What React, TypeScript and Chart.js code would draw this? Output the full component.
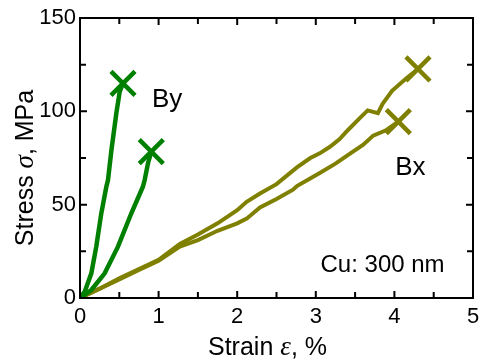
import React, { useEffect, useRef } from "react";
import { Chart, registerables } from "chart.js";

Chart.register(...registerables);

// By (green) curves
const by1Strain = [0, 0.06, 0.144, 0.207, 0.271, 0.335, 0.356, 0.4, 0.462, 0.505, 0.547];
const by1Stress = [0, 3.4, 13.2, 27.5, 45.4, 59.6, 63.2, 79.3, 98.9, 110.5, 115];
const by2Strain = [0, 0.144, 0.314, 0.483, 0.653, 0.8, 0.823, 0.865, 0.907];
const by2Stress = [0, 4.3, 13.2, 27.5, 45.4, 59.6, 63.2, 72.2, 78.4];

// Bx (olive) curves
const bx1Strain = [0, 0.25, 0.5, 0.75, 1, 1.27, 1.5, 1.75, 2.0, 2.12, 2.29, 2.5, 2.76, 2.93, 3.05, 3.18, 3.3, 3.41, 3.55, 3.66, 3.79, 3.85, 3.97, 4.16, 4.3];
const bx1Stress = [0, 5, 10.5, 15.5, 20.5, 29, 34, 40, 47, 51.5, 56, 61, 70, 75, 77.5, 81, 85, 90, 96, 100.5, 99, 104, 111, 118, 122.7];
const bx2Strain = [0, 0.25, 0.5, 0.75, 1, 1.27, 1.5, 1.75, 2.0, 2.12, 2.29, 2.5, 2.71, 2.76, 3.05, 3.25, 3.44, 3.6, 3.73, 3.9, 4.05];
const bx2Stress = [0, 5, 10, 15, 20, 27.5, 31, 36, 40, 42.5, 48.5, 53, 58, 60, 67, 72, 77.5, 82, 87, 90, 94.5];

// fracture markers
const byFracStrain = [0.547, 0.907];
const byFracStress = [115, 78.4];
const bxFracStrain = [4.3, 4.05];
const bxFracStress = [122.7, 94.5];

const xTicks = [0, 1, 2, 3, 4, 5];
const yTicks = [0, 50, 100, 150];
const xMinor = [0.5, 1.5, 2.5, 3.5, 4.5];
const yMinor = [25, 75, 125];

const labels = [
  { text: "By", x: 0.915, y: 106, size: 26 },
  { text: "Bx", x: 4.01, y: 69.6, size: 26 },
  { text: "Cu: 300 nm", x: 3.06, y: 17.7, size: 24 },
];

const GREEN = "rgb(0,128,0)";
const OLIVE = "rgb(128,128,0)";
const SANS = "'Liberation Sans', Arial, sans-serif";
const SERIF = "'Liberation Serif', 'Times New Roman', serif";

const pts = (xs: number[], ys: number[]) => xs.map((x, i) => ({ x, y: ys[i] }));

const framePlugin = {
  id: "frame",
  afterDatasetsDraw(chart: any) {
    const { ctx, chartArea: a, scales } = chart;
    const xs = scales.x;
    const ys = scales.y;
    ctx.save();
    ctx.strokeStyle = "#000";
    ctx.lineWidth = 2;
    ctx.strokeRect(a.left, a.top, a.right - a.left, a.bottom - a.top);
    const tick = (len: number, vx: number[], vy: number[]) => {
      ctx.beginPath();
      vx.forEach((v) => {
        const p = xs.getPixelForValue(v);
        ctx.moveTo(p, a.bottom);
        ctx.lineTo(p, a.bottom - len);
        ctx.moveTo(p, a.top);
        ctx.lineTo(p, a.top + len);
      });
      vy.forEach((v) => {
        const p = ys.getPixelForValue(v);
        ctx.moveTo(a.left, p);
        ctx.lineTo(a.left + len, p);
        ctx.moveTo(a.right, p);
        ctx.lineTo(a.right - len, p);
      });
      ctx.stroke();
    };
    tick(7, xTicks, yTicks);
    tick(6, xMinor, yMinor);

    // text annotations
    ctx.fillStyle = "#000";
    ctx.textBaseline = "middle";
    ctx.textAlign = "left";
    labels.forEach((l) => {
      ctx.font = `${l.size}px ${SANS}`;
      ctx.fillText(l.text, xs.getPixelForValue(l.x), ys.getPixelForValue(l.y));
    });

    // axis titles with italic symbols
    const drawParts = (parts: { t: string; f: string }[], cx: number, cy: number) => {
      let total = 0;
      parts.forEach((p) => {
        ctx.font = p.f;
        total += ctx.measureText(p.t).width;
      });
      let x = cx - total / 2;
      parts.forEach((p) => {
        ctx.font = p.f;
        ctx.fillText(p.t, x, cy);
        x += ctx.measureText(p.t).width;
      });
    };
    ctx.textBaseline = "alphabetic";
    const sans = `25px ${SANS}`;
    const ital = `italic 27px ${SERIF}`;
    drawParts(
      [
        { t: "Strain ", f: sans },
        { t: "ε", f: ital },
        { t: ", %", f: sans },
      ],
      (a.left + a.right) / 2 - 9,
      355
    );
    ctx.save();
    ctx.translate(33, (a.top + a.bottom) / 2 + 10);
    ctx.rotate(-Math.PI / 2);
    drawParts(
      [
        { t: "Stress ", f: sans },
        { t: "σ", f: ital },
        { t: ", MPa", f: sans },
      ],
      0,
      0
    );
    ctx.restore();
    ctx.restore();
  },
};

export default function App() {
  const ref = useRef<HTMLCanvasElement>(null);
  useEffect(() => {
    if (!ref.current) return;
    const line = (xs: number[], ys: number[], color: string, w: number) => ({
      data: pts(xs, ys),
      borderColor: color,
      backgroundColor: color,
      borderWidth: w,
      pointRadius: 0,
      showLine: true,
      tension: 0,
      fill: false,
    });
    const marks = (xs: number[], ys: number[], color: string) => ({
      data: pts(xs, ys),
      borderColor: color,
      backgroundColor: color,
      pointStyle: "crossRot",
      pointRadius: 17,
      pointBorderWidth: 4.5,
      showLine: false,
    });
    const chart = new Chart(ref.current, {
      type: "scatter",
      data: {
        datasets: [
          line(by1Strain, by1Stress, GREEN, 4.5),
          line(by2Strain, by2Stress, GREEN, 4.5),
          line(bx1Strain, bx1Stress, OLIVE, 4),
          line(bx2Strain, bx2Stress, OLIVE, 4),
          marks(byFracStrain, byFracStress, GREEN),
          marks(bxFracStrain, bxFracStress, OLIVE),
        ] as any,
      },
      options: {
        animation: false,
        responsive: false,
        maintainAspectRatio: false,
        layout: { autoPadding: false, padding: { top: 18, right: 10, left: 0, bottom: 0 } },
        plugins: { legend: { display: false }, tooltip: { enabled: false } },
        scales: {
          x: {
            type: "linear",
            min: 0,
            max: 5,
            grid: { display: false, drawTicks: false },
            border: { display: false },
            afterFit: (s: any) => {
              s.height = 64;
              s.paddingLeft = 0;
              s.paddingRight = 0;
            },
            afterBuildTicks: (s: any) => {
              s.ticks = xTicks.map((v) => ({ value: v }));
            },
            ticks: {
              padding: 6,
              color: "#000",
              font: { family: SANS, size: 22 },
              maxRotation: 0,
            },
          },
          y: {
            type: "linear",
            min: 0,
            max: 150,
            grid: { display: false, drawTicks: false },
            border: { display: false },
            afterFit: (s: any) => {
              s.width = 80;
              s.paddingTop = 0;
              s.paddingBottom = 0;
            },
            afterBuildTicks: (s: any) => {
              s.ticks = yTicks.map((v) => ({ value: v }));
            },
            ticks: {
              padding: 4,
              color: "#000",
              font: { family: SANS, size: 22 },
            },
          },
        },
      },
      plugins: [framePlugin],
    });
    return () => chart.destroy();
  }, []);
  return (
    <div style={{ position: "absolute", left: 0, top: 0, width: 483, height: 362 }}>
      <canvas ref={ref} width={483} height={362} style={{ width: 483, height: 362 }} />
    </div>
  );
}
